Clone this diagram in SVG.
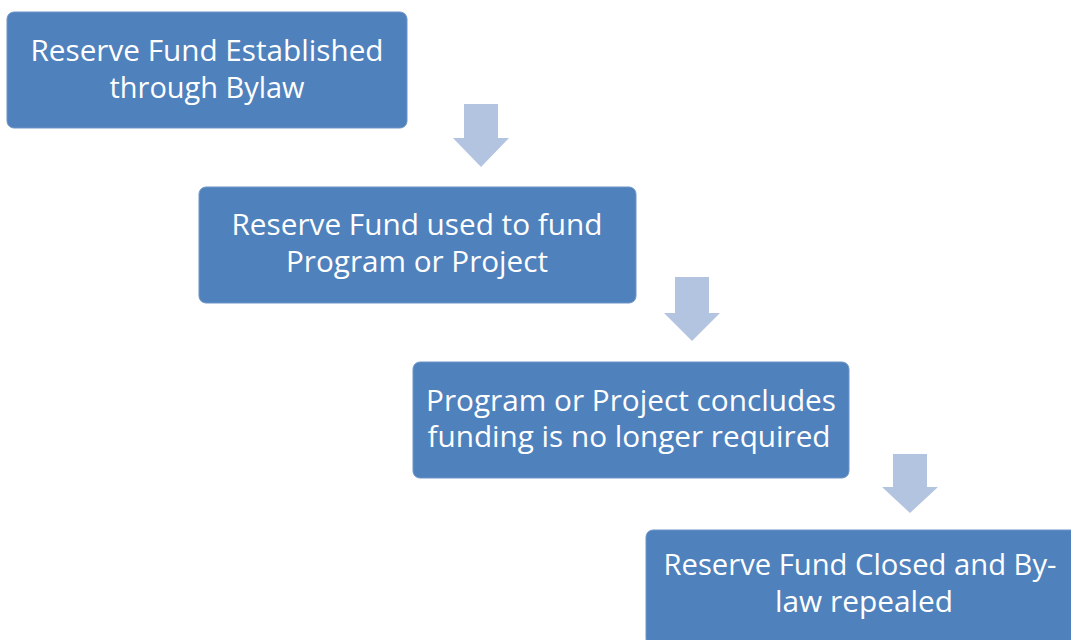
<svg xmlns="http://www.w3.org/2000/svg" width="1071" height="640" viewBox="0 0 1071 640">
<style>
.box{fill:#4F81BD;stroke:#6E95C8;stroke-width:1}
.arr{fill:#B3C4E0}
.t{font-family:"Open Sans","Noto Sans","Liberation Sans",sans-serif;font-size:29px;fill:#FFFFFF;text-anchor:middle}
</style>
<rect width="1071" height="640" fill="#FFFFFF"/>
<g id="connectors">
<polygon class="arr" points="464,104 498,104 498,138 509,138 481,167 453,138 464,138"/>
<polygon class="arr" points="675,277 709,277 709,313 720,313 692,341 664,313 675,313"/>
<polygon class="arr" points="893,454 927,454 927,487 938,487 910,513 882,487 893,487"/>
</g>
<g id="node1">
<rect class="box" x="7" y="12" width="400" height="116" rx="7"/>
<text class="t" x="207" y="61" textLength="353" lengthAdjust="spacingAndGlyphs">Reserve Fund Established</text>
<text class="t" x="207" y="98" textLength="195" lengthAdjust="spacingAndGlyphs">through Bylaw</text>
</g>
<g id="node2">
<rect class="box" x="199" y="187" width="437" height="116" rx="7"/>
<text class="t" x="417" y="235" textLength="371" lengthAdjust="spacingAndGlyphs">Reserve Fund used to fund</text>
<text class="t" x="417" y="272" textLength="262" lengthAdjust="spacingAndGlyphs">Program or Project</text>
</g>
<g id="node3">
<rect class="box" x="413" y="362" width="436" height="116" rx="7"/>
<text class="t" x="631" y="411" textLength="410" lengthAdjust="spacingAndGlyphs">Program or Project concludes</text>
<text class="t" x="629" y="447" textLength="403" lengthAdjust="spacingAndGlyphs">funding is no longer required</text>
</g>
<g id="node4">
<rect class="box" x="646" y="530" width="437" height="116" rx="7"/>
<text class="t" x="860" y="575" textLength="393" lengthAdjust="spacingAndGlyphs">Reserve Fund Closed and By-</text>
<text class="t" x="864" y="612" textLength="178" lengthAdjust="spacingAndGlyphs">law repealed</text>
</g>
</svg>
